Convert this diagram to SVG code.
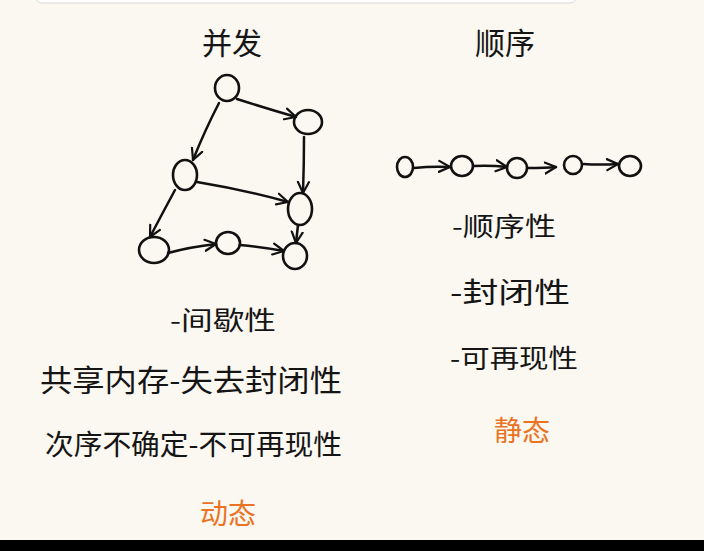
<svg xmlns="http://www.w3.org/2000/svg" width="704" height="551" viewBox="0 0 704 551">
<defs>
<marker id="ah" viewBox="0 0 14 14" refX="12" refY="7" markerWidth="14" markerHeight="14" markerUnits="userSpaceOnUse" orient="auto">
<path d="M1,1.5 L12,7 L1,12.5" fill="none" stroke="#111" stroke-width="2.2" stroke-linecap="round" stroke-linejoin="round"/>
</marker>
<style>
.n{fill:none;stroke:#111;stroke-width:2.6}
.e{fill:none;stroke:#111;stroke-width:2.5;stroke-linecap:round;marker-end:url(#ah)}
.t{font-family:"Noto Sans CJK SC","Liberation Sans",sans-serif;fill:#151515;font-weight:400}
.o{fill:#ea7424}
</style>
</defs>
<rect width="704" height="551" fill="#fbf7f1"/>
<rect x="36" y="-8" width="540" height="11" rx="6" fill="#ffffff" stroke="#dcdad6" stroke-width="1"/>
<rect x="0" y="540" width="704" height="11" fill="#000"/>

<g id="titles">
<text class="t" x="232" y="54" font-size="30" text-anchor="middle">并发</text>
<text class="t" x="505" y="54" font-size="30" text-anchor="middle">顺序</text>
</g>

<g id="graph-nodes">
<g id="A"><ellipse class="n" cx="227" cy="88" rx="12" ry="13"/></g>
<g id="B"><ellipse class="n" cx="308" cy="122" rx="14" ry="12"/></g>
<g id="C"><ellipse class="n" cx="185" cy="175" rx="12" ry="15"/></g>
<g id="D"><ellipse class="n" cx="300" cy="209" rx="12" ry="16"/></g>
<g id="E"><ellipse class="n" cx="154" cy="250" rx="15" ry="13"/></g>
<g id="F"><ellipse class="n" cx="228" cy="243" rx="12" ry="11"/></g>
<g id="G"><ellipse class="n" cx="295" cy="256" rx="12" ry="13"/></g>
</g>

<g id="graph-connectors">
<path class="e" d="M237,99 Q265,108 296,117"/>
<path class="e" d="M219,103 Q205,130 193,160"/>
<path class="e" d="M304,137 Q304,165 303,193"/>
<path class="e" d="M197,182 Q245,190 288,202"/>
<path class="e" d="M175,190 Q162,214 150,237"/>
<path class="e" d="M168,253 Q190,247 216,244"/>
<path class="e" d="M240,245 Q262,247 284,251"/>
<path class="e" d="M298,225 Q297,234 296,243"/>
</g>

<g id="chain-nodes">
<g id="s1"><ellipse class="n" cx="405" cy="167" rx="8" ry="10"/></g>
<g id="s2"><ellipse class="n" cx="462" cy="166" rx="11" ry="10"/></g>
<g id="s3"><ellipse class="n" cx="517" cy="168" rx="10" ry="10"/></g>
<g id="s4"><ellipse class="n" cx="573" cy="165" rx="9" ry="9"/></g>
<g id="s5"><ellipse class="n" cx="630" cy="166" rx="11" ry="10"/></g>
</g>

<g id="chain-connectors">
<path class="e" d="M414,168 Q432,166 450,167"/>
<path class="e" d="M473,166 Q490,165 507,167"/>
<path class="e" d="M528,168 Q545,168 556,167"/>
<path class="e" d="M583,164 Q600,165 618,164"/>
</g>

<g id="left-notes">
<text class="t" x="170" y="330" font-size="26" textLength="106" lengthAdjust="spacingAndGlyphs">-间歇性</text>
<text class="t" x="40" y="391" font-size="30" textLength="302" lengthAdjust="spacingAndGlyphs">共享内存-失去封闭性</text>
<text class="t" x="45" y="455" font-size="28" textLength="297" lengthAdjust="spacingAndGlyphs">次序不确定-不可再现性</text>
<text class="t o" x="228" y="524" font-size="28" text-anchor="middle">动态</text>
</g>

<g id="right-notes">
<text class="t" x="452" y="236" font-size="26" textLength="104" lengthAdjust="spacingAndGlyphs">-顺序性</text>
<text class="t" x="450" y="303" font-size="28" textLength="120" lengthAdjust="spacingAndGlyphs">-封闭性</text>
<text class="t" x="450" y="368" font-size="26" textLength="128" lengthAdjust="spacingAndGlyphs">-可再现性</text>
<text class="t o" x="522" y="441" font-size="28" text-anchor="middle">静态</text>
</g>
</svg>
